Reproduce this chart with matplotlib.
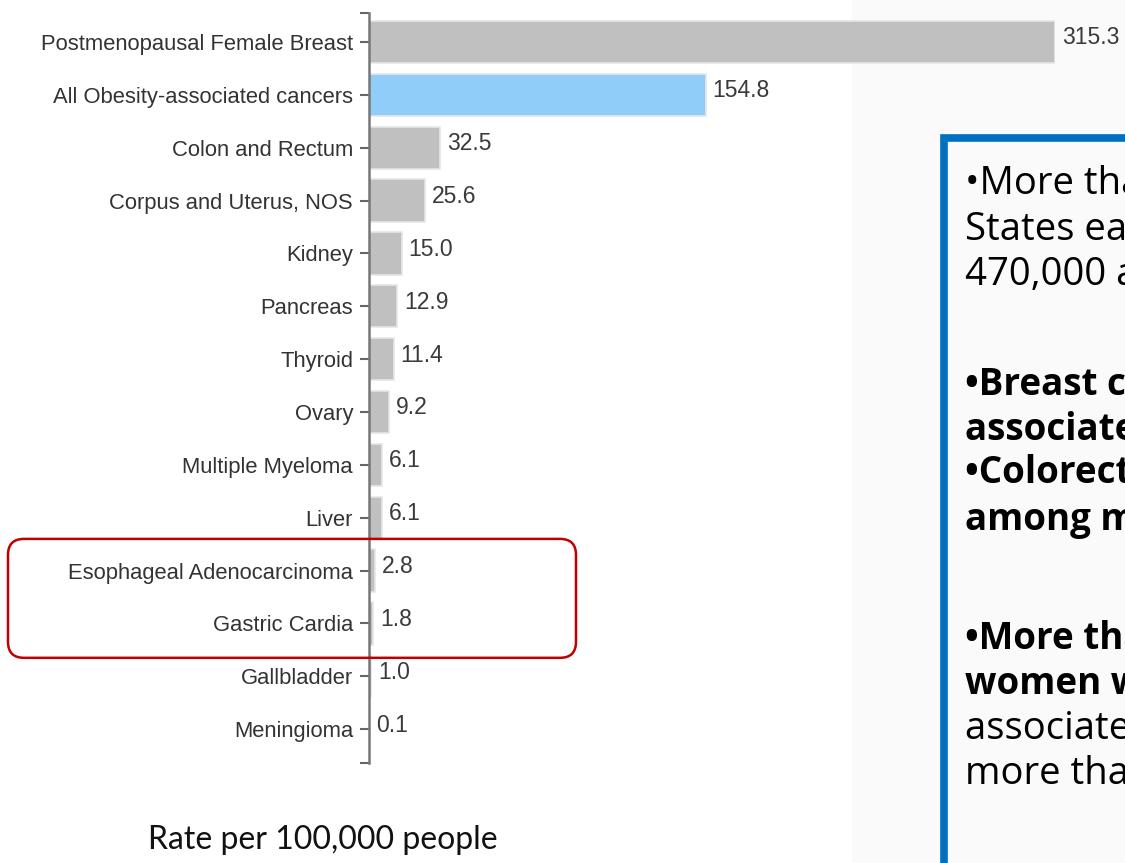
import matplotlib
matplotlib.use("Agg")
import matplotlib.pyplot as plt
from matplotlib.patches import Rectangle, FancyBboxPatch
from matplotlib.transforms import IdentityTransform

# incidence rates per 100,000 people
cancers = [
    "Postmenopausal Female Breast",
    "All Obesity-associated cancers",
    "Colon and Rectum",
    "Corpus and Uterus, NOS",
    "Kidney",
    "Pancreas",
    "Thyroid",
    "Ovary",
    "Multiple Myeloma",
    "Liver",
    "Esophageal Adenocarcinoma",
    "Gastric Cardia",
    "Gallbladder",
    "Meningioma",
]
rates = [315.3, 154.8, 32.5, 25.6, 15.0, 12.9, 11.4, 9.2, 6.1, 6.1, 2.8, 1.8, 1.0, 0.1]
highlight = "All Obesity-associated cancers"
boxed = ["Esophageal Adenocarcinoma", "Gastric Cardia"]

# side note lines: (text, bold, baseline in px from top)
note_lines = [
    ("\u2022More than 684,000 obesity-associated cancers occur in the United", False, 194),
    ("States each year, including about", False, 240),
    ("470,000 among women.", False, 285),
    ("\u2022Breast cancer is the most common obesity-", True, 395),
    ("associated cancer among women.", True, 440),
    ("\u2022Colorectal cancer is the most common", True, 483),
    ("among men.", True, 530),
    ("\u2022More than 55% of all cancers diagnosed in", True, 649),
    ("women were obesity-", True, 694),
    ("associated cancers, compared to", False, 739),
    ("more than 24% of those in men.", False, 784),
]

W, H = 1125, 863
fig = plt.figure(figsize=(W / 100, H / 100), dpi=100)
fig.patch.set_facecolor("white")

# light panel behind the note
fig.patches.append(Rectangle((852 / W, 0), (W - 852) / W, 1, transform=fig.transFigure,
                             facecolor="#fafafa", edgecolor="none", zorder=-2))

ax = fig.add_axes([369 / W, 100 / H, (1055 - 369) / W, 750 / H])
ax.set_facecolor("none")

ypos = list(range(len(cancers)))
colors = ["#90cdf8" if c == highlight else "#c0c0c0" for c in cancers]
ax.barh(ypos, rates, height=0.8, color=colors, edgecolor="#e6e6e6", linewidth=1.2, zorder=2)

ax.set_xlim(0, max(rates))
ax.set_ylim(len(cancers) - 1 + 0.64, -0.55)

for y, v in zip(ypos, rates):
    ax.annotate(f"{v:.1f}", xy=(v, y), xytext=(5, 3), textcoords="offset points",
                ha="left", va="center", fontsize=16.5, color="#3a3a3a",
                family="Liberation Sans", annotation_clip=False)

ax.set_yticks(ypos)
ax.set_yticklabels(cancers, family="Liberation Sans", fontsize=15.8, color="#333333")
ax.set_yticks(list(ax.get_ylim()), minor=True)
ax.tick_params(axis="y", which="both", length=6.5, width=1.5, color="#666666", pad=5)
ax.set_xticks([])
for side in ["top", "right", "bottom"]:
    ax.spines[side].set_visible(False)
ax.spines["left"].set_color("#777777")
ax.spines["left"].set_linewidth(1.8)
ax.spines["left"].set_zorder(3)

# red outline around the two boxed rows
fig.canvas.draw()
top = ax.transData.transform((0, cancers.index(boxed[0]) - 0.6))[1]
bot = ax.transData.transform((0, cancers.index(boxed[-1]) + 0.65))[1]
fig.patches.append(FancyBboxPatch((8, bot), 568, top - bot, transform=IdentityTransform(),
                                  boxstyle="round,pad=0,rounding_size=16",
                                  facecolor="none", edgecolor="#c00000", linewidth=1.8,
                                  zorder=5))

fig.text(323 / W, 1 - 840 / H, "Rate per 100,000 people", ha="center", va="center",
         family="Lato", fontsize=23, color="#111111")

# blue-framed note on the right
fig.patches.append(Rectangle((944 / W, -0.05), 1, (H - 138) / H + 0.05, transform=fig.transFigure,
                             facecolor="#fafafa", edgecolor="#0070c0", linewidth=5.5, zorder=1))
for text, bold, baseline in note_lines:
    fig.text(965 / W, 1 - baseline / H, text, ha="left", va="baseline",
             family="Open Sans", fontsize=26.5 if bold else 27.5, color="black",
             weight="bold" if bold else "normal")

fig.savefig("out.png", dpi=100)
